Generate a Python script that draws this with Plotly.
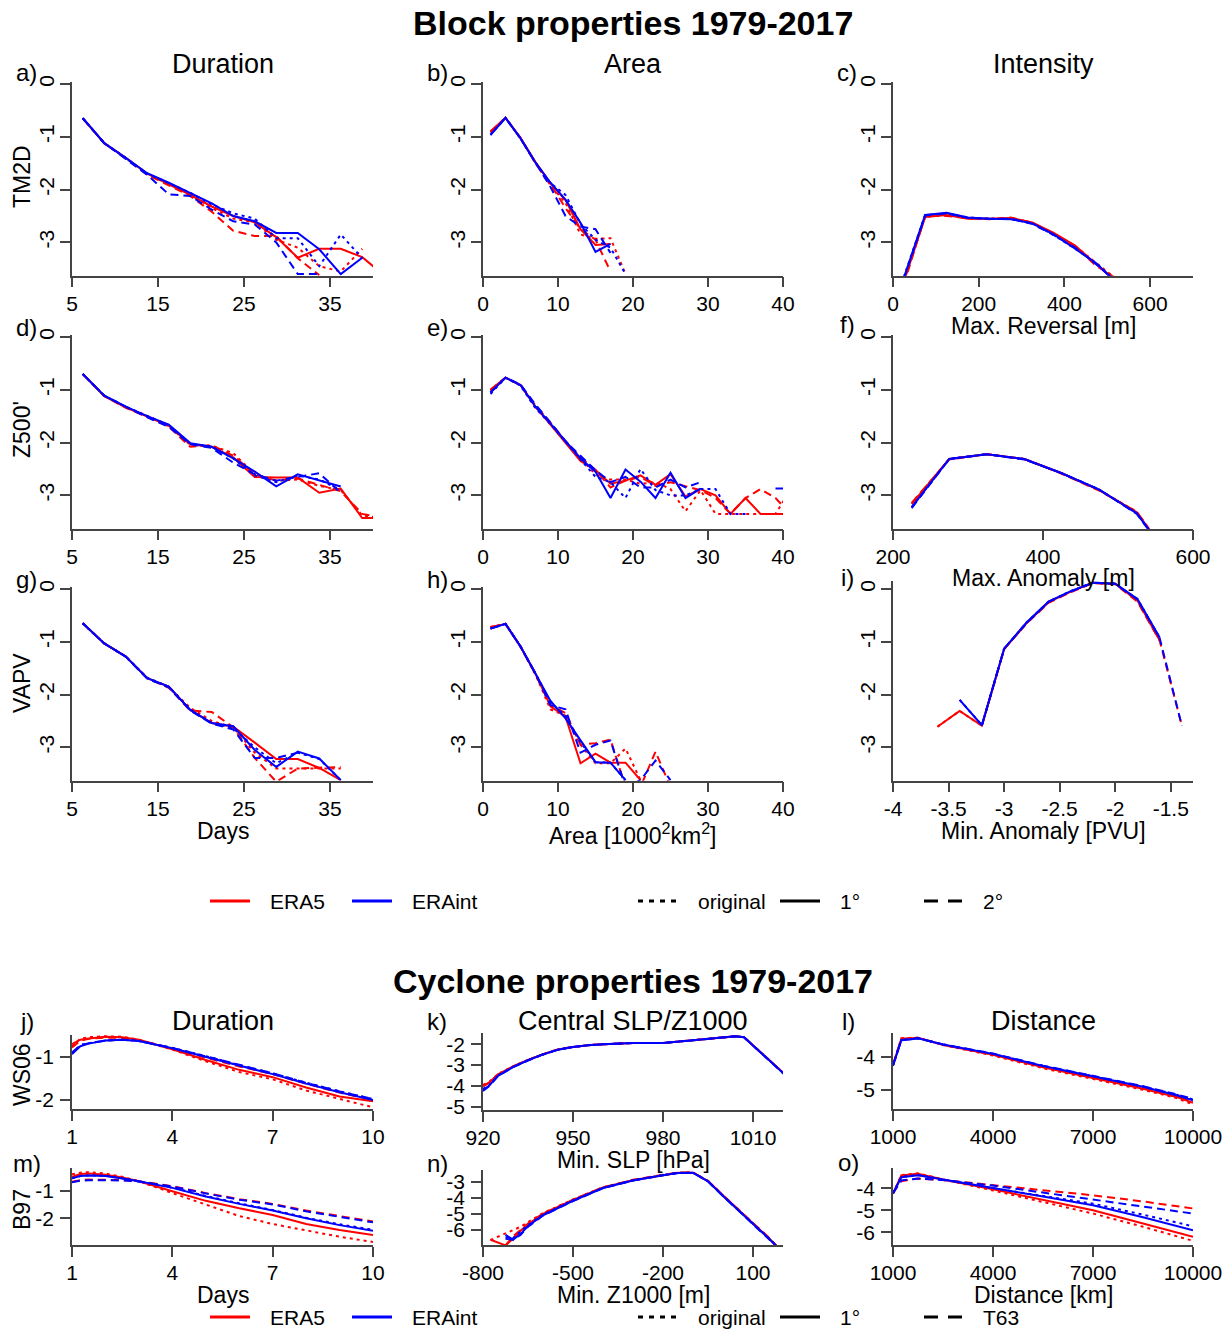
import plotly.graph_objects as go

W, H = 1231, 1331
FONT = "Liberation Sans, Arial, Helvetica, sans-serif"
RED, BLUE = "#FF0000", "#0000FF"

# ------------------------------------------------------------------ data
DUR_X = [6.25, 8.75, 11.25, 13.75, 16.25, 18.75, 21.25, 23.75, 26.25, 28.75, 31.25, 33.75, 36.25, 38.75, 41.25]
AREA_X = [1, 3, 5, 7, 9, 11, 13, 15, 17, 19, 21, 23, 25, 27, 29, 31, 33, 35, 37, 39, 41]
REV_X = [25, 75, 125, 175, 225, 275, 325, 375, 425, 475, 525]
ANOM_X = [225, 275, 325, 375, 425, 475, 525, 575]
PV_X = [-3.6, -3.4, -3.2, -3.0, -2.8, -2.6, -2.4, -2.2, -2.0, -1.8, -1.6, -1.4]
CDUR_X = [1, 1.25, 1.5, 2, 2.5, 3, 4, 5, 6, 7, 8, 9, 10]
SLP_X = [920, 922, 925, 930, 935, 940, 945, 950, 955, 960, 970, 980, 990, 1000, 1004, 1007, 1010, 1015, 1020, 1023]
Z1000_X = [-775, -725, -700, -675, -650, -600, -500, -400, -300, -200, -150, -100, -50, 0, 50, 100, 150, 200]
DIST_L_X = [1000, 1250, 1500, 1750, 2500, 4000, 5500, 7000, 8500, 9500, 10000]
DIST_O_X = [1000, 1250, 1750, 2500, 4000, 5500, 7000, 8500, 10000]

N = None
# a) Duration TM2D
A = {
    "E5_orig": [-0.65, -1.12, -1.40, -1.70, -1.88, -2.08, -2.35, -2.55, -2.62, -2.95, -3.10, -3.45, -3.55, -3.12, N],
    "E5_1":    [-0.65, -1.12, -1.40, -1.70, -1.90, -2.10, -2.32, -2.50, -2.62, -2.90, -3.29, -3.12, -3.12, -3.28, -3.62],
    "E5_2":    [-0.65, -1.12, -1.41, -1.72, -1.92, -2.12, -2.42, -2.78, -2.88, -2.88, -3.30, -3.62, N, N, N],
    "EI_orig": [-0.65, -1.12, -1.40, -1.70, -1.88, -2.06, -2.28, -2.45, -2.55, -2.92, -2.92, -3.45, -2.85, -3.30, N],
    "EI_1":    [-0.64, -1.12, -1.40, -1.69, -1.87, -2.06, -2.26, -2.50, -2.60, -2.82, -2.82, -3.13, -3.60, -3.29, N],
    "EI_2":    [-0.65, -1.12, -1.42, -1.72, -2.09, -2.12, -2.38, -2.60, -2.66, -3.00, -3.60, -3.60, N, N, N],
}
# b) Area TM2D
B = {
    "E5_orig": [-0.92, -0.64, -1.03, -1.50, -1.92, -2.25, -2.85, -2.93, -2.92, -3.60],
    "E5_1":    [-0.90, -0.64, -1.02, -1.48, -1.88, -2.20, -2.75, -3.05, -3.03],
    "E5_2":    [-0.90, -0.64, -1.02, -1.50, -1.90, -2.35, -2.75, -2.95, -3.55],
    "EI_orig": [-0.96, -0.64, -1.03, -1.49, -1.88, -2.10, -2.65, -2.95, -3.10, -3.60],
    "EI_1":    [-0.97, -0.64, -1.03, -1.49, -1.87, -2.19, -2.63, -3.18, -3.03],
    "EI_2":    [-0.96, -0.64, -1.03, -1.50, -1.95, -2.50, -2.70, -2.75, -3.20],
}
# c) Intensity TM2D (max. reversal)
C = {
    "E5_orig": [-3.72, -2.52, -2.47, -2.55, -2.55, -2.55, -2.63, -2.83, -3.07, -3.40, -3.72],
    "E5_1":    [-3.75, -2.52, -2.48, -2.55, -2.55, -2.54, -2.62, -2.82, -3.06, -3.42, -3.75],
    "E5_2":    [-3.80, -2.50, -2.50, -2.54, -2.56, -2.53, -2.63, -2.84, -3.08, -3.45, -3.70],
    "EI_orig": [-3.66, -2.48, -2.45, -2.53, -2.55, -2.56, -2.64, -2.86, -3.12, -3.40, -3.78],
    "EI_1":    [-3.68, -2.48, -2.44, -2.53, -2.55, -2.56, -2.64, -2.85, -3.12, -3.40, -3.80],
    "EI_2":    [-3.70, -2.49, -2.45, -2.54, -2.55, -2.55, -2.65, -2.86, -3.10, -3.42, -3.78],
}
# d) Duration Z500'
D = {
    "E5_orig": [-0.70, -1.11, -1.33, -1.50, -1.69, -2.04, -2.06, -2.20, -2.60, -2.72, -2.70, -2.82, -2.90, -3.38, -3.43],
    "E5_1":    [-0.70, -1.12, -1.33, -1.50, -1.68, -2.03, -2.08, -2.28, -2.65, -2.66, -2.66, -2.95, -2.87, -3.43, -3.43],
    "E5_2":    [-0.70, -1.12, -1.34, -1.51, -1.70, -2.08, -2.05, -2.25, -2.60, -2.72, -2.68, -2.80, -2.92, -3.35, -3.43],
    "EI_orig": [-0.70, -1.11, -1.32, -1.50, -1.67, -2.02, -2.08, -2.30, -2.62, -2.75, -2.62, -2.70, -2.90, N, N],
    "EI_1":    [-0.70, -1.11, -1.32, -1.50, -1.66, -2.01, -2.08, -2.30, -2.55, -2.83, -2.60, -2.72, -2.83, N, N],
    "EI_2":    [-0.70, -1.11, -1.32, -1.52, -1.70, -2.03, -2.10, -2.38, -2.60, -2.72, -2.65, -2.58, -2.95, N, N],
}
# e) Area Z500'
E = {
    "E5_orig": [-1.02, -0.77, -0.91, -1.33, -1.65, -1.99, -2.30, -2.60, -2.70, -2.70, -2.78, -2.75, -2.88, -3.30, -2.90, -3.35, -3.35, -3.35, -3.35, -3.35, -2.90],
    "E5_1":    [-1.00, -0.77, -0.91, -1.32, -1.66, -2.00, -2.35, -2.52, -2.78, -2.72, -2.62, -2.80, -2.60, -3.02, -2.88, -3.00, -3.35, -3.05, -3.35, -3.35, -3.35],
    "E5_2":    [-1.00, -0.77, -0.91, -1.30, -1.62, -1.97, -2.28, -2.52, -2.85, -2.72, -2.65, -2.82, -2.75, -2.82, -2.90, -3.05, -3.35, -3.05, -2.88, -3.05, -3.35],
    "EI_orig": [-1.08, -0.77, -0.92, -1.35, -1.65, -1.98, -2.32, -2.65, -2.75, -3.05, -2.50, -2.90, -3.00, -3.00, -2.88, -2.88, -3.35, -3.35, N, N, N],
    "EI_1":    [-1.05, -0.77, -0.91, -1.32, -1.64, -1.98, -2.30, -2.55, -3.05, -2.51, -2.74, -3.05, -2.57, -3.05, -2.87, N, N, N, N, N, N],
    "EI_2":    [-1.05, -0.77, -0.90, -1.28, -1.62, -1.98, -2.25, -2.52, -2.75, -2.65, -2.85, -2.85, -2.70, -2.85, -2.75, N, N, N, N, -2.87, -2.87],
}
# f) Intensity Z500' (max. anomaly)
F = {
    "E5_orig": [-3.15, -2.31, -2.22, -2.31, -2.58, -2.90, -3.31, -4.30],
    "E5_1":    [-3.16, -2.31, -2.22, -2.31, -2.58, -2.90, -3.32, -4.30],
    "E5_2":    [-3.14, -2.32, -2.22, -2.31, -2.59, -2.91, -3.31, -4.30],
    "EI_orig": [-3.22, -2.31, -2.22, -2.31, -2.58, -2.89, -3.34, -4.30],
    "EI_1":    [-3.22, -2.31, -2.22, -2.31, -2.58, -2.89, -3.34, -4.30],
    "EI_2":    [-3.24, -2.31, -2.22, -2.32, -2.58, -2.89, -3.35, -4.30],
}
# g) Duration VAPV
G = {
    "E5_orig": [-0.65, -1.03, -1.28, -1.69, -1.86, -2.25, -2.50, -2.62, -3.10, -3.40, -3.40, -3.40, -3.40, N, N],
    "E5_1":    [-0.65, -1.03, -1.28, -1.69, -1.85, -2.29, -2.54, -2.61, -2.91, -3.22, -3.22, -3.39, -3.62, N, N],
    "E5_2":    [-0.65, -1.03, -1.28, -1.69, -1.87, -2.30, -2.33, -2.62, -3.20, -3.65, -3.40, -3.38, -3.37, N, N],
    "EI_orig": [-0.65, -1.03, -1.28, -1.68, -1.85, -2.28, -2.54, -2.63, -3.00, -3.30, -3.10, -3.22, -3.62, N, N],
    "EI_1":    [-0.65, -1.03, -1.28, -1.69, -1.85, -2.29, -2.54, -2.60, -3.05, -3.37, -3.08, -3.21, -3.62, N, N],
    "EI_2":    [-0.65, -1.03, -1.28, -1.70, -1.86, -2.30, -2.55, -2.66, -3.20, -3.20, -3.10, N, N, N, N],
}
# h) Area VAPV
Hh = {
    "E5_orig": [-0.72, -0.66, -1.10, -1.62, -2.28, -2.40, -2.95, -3.30, -3.30, -3.02, -3.62],
    "E5_1":    [-0.73, -0.66, -1.09, -1.60, -2.22, -2.42, -3.30, -3.12, -3.29, -3.29, -3.62],
    "E5_2":    [-0.72, -0.66, -1.09, -1.62, -2.20, -2.35, -2.95, -2.92, -2.85, -3.75, -3.75, -3.08, -3.75],
    "EI_orig": [-0.75, -0.66, -1.08, -1.60, -2.15, -2.40, -2.90, -3.28, -3.29, -3.62],
    "EI_1":    [-0.75, -0.66, -1.09, -1.60, -2.12, -2.45, -2.86, -3.28, -3.29, -3.62],
    "EI_2":    [-0.75, -0.66, -1.09, -1.60, -2.20, -2.28, -3.10, -2.95, -2.87, -3.75, -3.62, -3.25, -3.62],
}
# i) Intensity VAPV (min. anomaly)
I = {
    "E5_orig": [-2.61, -2.31, -2.59, -1.14, -0.65, -0.25, -0.05, 0.12, 0.10, -0.22, -0.97, N],
    "E5_1":    [-2.61, -2.31, -2.59, -1.14, -0.65, -0.25, -0.05, 0.12, 0.10, -0.22, -0.97, N],
    "E5_2":    [N, N, -2.59, -1.14, -0.66, -0.26, -0.06, 0.11, 0.09, -0.24, -0.98, -2.59],
    "EI_orig": [N, -2.10, -2.58, -1.13, -0.64, -0.24, -0.04, 0.12, 0.10, -0.19, -0.92, N],
    "EI_1":    [N, -2.10, -2.58, -1.13, -0.64, -0.24, -0.04, 0.12, 0.10, -0.19, -0.92, N],
    "EI_2":    [N, N, -2.58, -1.13, -0.65, -0.24, -0.05, 0.12, 0.10, -0.20, -0.93, -2.59],
}
# j) Cyclone duration WS06
J = {
    "E5_orig": [-0.75, -0.58, -0.54, -0.52, -0.53, -0.60, -0.83, -1.10, -1.35, -1.52, -1.78, -1.98, -2.17],
    "E5_1":    [-0.70, -0.60, -0.57, -0.53, -0.54, -0.60, -0.82, -1.07, -1.30, -1.47, -1.71, -1.92, -2.03],
    "E5_2":    [-0.78, -0.62, -0.58, -0.55, -0.56, -0.61, -0.80, -1.02, -1.22, -1.40, -1.62, -1.83, -2.00],
    "EI_orig": [-0.93, -0.72, -0.68, -0.62, -0.60, -0.63, -0.79, -0.98, -1.19, -1.38, -1.60, -1.80, -1.98],
    "EI_1":    [-0.93, -0.75, -0.69, -0.62, -0.60, -0.63, -0.80, -1.00, -1.20, -1.40, -1.62, -1.82, -2.00],
    "EI_2":    [-0.90, -0.73, -0.68, -0.62, -0.60, -0.63, -0.79, -0.98, -1.18, -1.38, -1.60, -1.80, -1.98],
}
# m) Cyclone duration B97
M = {
    "E5_orig": [-0.41, -0.35, -0.33, -0.38, -0.50, -0.66, -1.09, -1.51, -1.92, -2.21, -2.45, -2.67, -2.86],
    "E5_1":    [-0.50, -0.40, -0.38, -0.42, -0.52, -0.66, -1.02, -1.37, -1.64, -1.88, -2.21, -2.43, -2.61],
    "E5_2":    [-0.68, -0.62, -0.60, -0.60, -0.62, -0.66, -0.84, -1.09, -1.31, -1.48, -1.72, -1.92, -2.12],
    "EI_orig": [-0.55, -0.47, -0.44, -0.46, -0.55, -0.66, -0.89, -1.19, -1.46, -1.70, -1.98, -2.22, -2.42],
    "EI_1":    [-0.55, -0.47, -0.45, -0.47, -0.56, -0.66, -0.90, -1.21, -1.48, -1.72, -2.00, -2.25, -2.45],
    "EI_2":    [-0.70, -0.64, -0.62, -0.62, -0.63, -0.67, -0.85, -1.10, -1.33, -1.50, -1.75, -1.95, -2.15],
}
# k) Central SLP WS06
K = {
    "E5_orig": [-3.95, -3.82, -3.43, -3.06, -2.75, -2.48, -2.25, -2.13, -2.05, -2.00, -1.94, -1.94, -1.81, -1.68, -1.62, -1.66, -2.05, -2.72, -3.36, -3.75],
    "E5_1":    [-4.00, -3.85, -3.45, -3.07, -2.75, -2.48, -2.25, -2.13, -2.05, -2.00, -1.94, -1.94, -1.81, -1.68, -1.62, -1.66, -2.05, -2.72, -3.36, -3.75],
    "E5_2":    [-4.02, -3.86, -3.46, -3.08, -2.76, -2.48, -2.25, -2.13, -2.05, -2.00, -1.94, -1.94, -1.81, -1.68, -1.62, -1.66, -2.06, -2.73, -3.37, -3.76],
    "EI_orig": [-4.15, -3.98, -3.50, -3.09, -2.77, -2.49, -2.26, -2.13, -2.05, -2.00, -1.94, -1.94, -1.81, -1.68, -1.62, -1.66, -2.05, -2.72, -3.38, -3.78],
    "EI_1":    [-4.20, -4.00, -3.52, -3.10, -2.77, -2.49, -2.26, -2.13, -2.05, -2.00, -1.94, -1.94, -1.81, -1.68, -1.62, -1.66, -2.05, -2.72, -3.38, -3.78],
    "EI_2":    [-4.25, -4.02, -3.53, -3.10, -2.78, -2.49, -2.26, -2.13, -2.05, -2.00, -1.94, -1.94, -1.81, -1.68, -1.62, -1.66, -2.06, -2.73, -3.39, -3.79],
}
# n) Central Z1000 B97
Nn = {
    "E5_orig": [-6.62, -6.20, -6.00, -5.80, -5.50, -4.95, -4.10, -3.35, -2.90, -2.58, -2.44, -2.43, -2.95, -3.85, -4.70, -5.55, -6.45, -7.40],
    "E5_1":    [-6.60, -6.95, -6.55, -6.05, -5.65, -5.00, -4.13, -3.36, -2.90, -2.58, -2.44, -2.44, -2.96, -3.86, -4.72, -5.57, -6.45, -7.40],
    "E5_2":    [N, -6.95, -6.40, -6.00, -5.60, -4.98, -4.12, -3.35, -2.88, -2.57, -2.43, -2.43, -2.94, -3.84, -4.70, -5.55, -6.42, -7.40],
    "EI_orig": [N, -6.45, -6.50, -6.10, -5.70, -5.05, -4.16, -3.38, -2.91, -2.59, -2.45, -2.44, -2.97, -3.87, -4.73, -5.58, -6.46, -7.40],
    "EI_1":    [N, -6.30, -6.60, -6.25, -5.75, -5.08, -4.18, -3.39, -2.92, -2.59, -2.45, -2.44, -2.97, -3.88, -4.74, -5.60, -6.48, -7.40],
    "EI_2":    [N, -6.55, -6.60, -6.30, -5.80, -5.10, -4.20, -3.40, -2.92, -2.60, -2.45, -2.45, -2.98, -3.88, -4.75, -5.60, -6.48, -7.40],
}
# l) Distance WS06
L = {
    "E5_orig": [-4.24, -3.42, -3.41, -3.40, -3.63, -3.95, -4.34, -4.67, -5.00, -5.25, -5.45],
    "E5_1":    [-4.24, -3.44, -3.42, -3.41, -3.62, -3.93, -4.31, -4.63, -4.97, -5.22, -5.40],
    "E5_2":    [-4.22, -3.45, -3.43, -3.41, -3.62, -3.92, -4.30, -4.62, -4.95, -5.20, -5.38],
    "EI_orig": [-4.26, -3.48, -3.45, -3.42, -3.61, -3.90, -4.27, -4.58, -4.90, -5.15, -5.30],
    "EI_1":    [-4.26, -3.48, -3.46, -3.42, -3.61, -3.90, -4.27, -4.58, -4.91, -5.17, -5.32],
    "EI_2":    [-4.25, -3.47, -3.45, -3.42, -3.61, -3.89, -4.26, -4.57, -4.89, -5.14, -5.28],
}
# o) Distance B97
O = {
    "E5_orig": [-4.25, -3.40, -3.32, -3.60, -4.10, -4.62, -5.15, -5.75, -6.39],
    "E5_1":    [-4.24, -3.42, -3.34, -3.60, -4.05, -4.52, -5.00, -5.60, -6.21],
    "E5_2":    [-4.20, -3.68, -3.56, -3.63, -3.86, -4.10, -4.32, -4.60, -4.92],
    "EI_orig": [-4.22, -3.48, -3.40, -3.60, -4.00, -4.35, -4.70, -5.20, -5.73],
    "EI_1":    [-4.24, -3.50, -3.41, -3.61, -4.01, -4.38, -4.77, -5.32, -5.91],
    "EI_2":    [-4.22, -3.64, -3.56, -3.63, -3.88, -4.20, -4.50, -4.82, -5.15],
}

SERIES = [("E5_orig", RED, "3px,4px"), ("E5_1", RED, "solid"), ("E5_2", RED, "8px,5px"),
          ("EI_orig", BLUE, "3px,4px"), ("EI_1", BLUE, "solid"), ("EI_2", BLUE, "8px,5px")]

BLOCK_YT = [0, -1, -2, -3]


def px(x):
    return x / W


def py(y):
    return 1 - y / H


def lab(v):
    return ("%g" % v)


COLS = [(72, 373), (483, 783), (893, 1193)]
ROW0 = [84, 337, 589]
U = 52.8


def block_y(row, top=0.04, bot=-3.63):
    y0 = ROW0[row]
    return (y0 - top * U, y0 - bot * U), [bot, top]


panels = []
for (data, xs, col, row, xr, xt, top) in [
    (A, DUR_X, 0, 0, [5, 40], [5, 15, 25, 35], 0.04),
    (B, AREA_X, 1, 0, [0, 40], [0, 10, 20, 30, 40], 0.04),
    (C, REV_X, 2, 0, [0, 700], [0, 200, 400, 600], 0.04),
    (D, DUR_X, 0, 1, [5, 40], [5, 15, 25, 35], 0.04),
    (E, AREA_X, 1, 1, [0, 40], [0, 10, 20, 30, 40], 0.04),
    (F, ANOM_X, 2, 1, [200, 600], [200, 400, 600], 0.04),
    (G, DUR_X, 0, 2, [5, 40], [5, 15, 25, 35], 0.04),
    (Hh, AREA_X, 1, 2, [0, 40], [0, 10, 20, 30, 40], 0.04),
    (I, PV_X, 2, 2, [-4, -1.3], [-4, -3.5, -3, -2.5, -2, -1.5], 0.15),
]:
    ypix, yr = block_y(row, top=top)
    panels.append(dict(data=data, x=xs, xpix=COLS[col], ypix=ypix, xr=xr, yr=yr,
                       xt=xt, yt=BLOCK_YT, yang=-90))

for (data, xs, col, yt_px, yb_px, xr, yr, xt, yt) in [
    (J, CDUR_X, 0, 1035, 1109, [1, 10], [-2.21, -0.49], [1, 4, 7, 10], [-1, -2]),
    (K, SLP_X, 1, 1033, 1110, [920, 1020], [-5.16, -1.46], [920, 950, 980, 1010], [-2, -3, -4, -5]),
    (L, DIST_L_X, 2, 1033, 1109, [1000, 10000], [-5.59, -3.26], [1000, 4000, 7000, 10000], [-4, -5]),
    (M, CDUR_X, 0, 1168, 1245, [1, 10], [-2.97, -0.18], [1, 4, 7, 10], [-1, -2]),
    (Nn, Z1000_X, 1, 1170, 1245, [-800, 200], [-6.93, -2.27], [-800, -500, -200, 100], [-3, -4, -5, -6]),
    (O, DIST_O_X, 2, 1168, 1245, [1000, 10000], [-6.58, -3.08], [1000, 4000, 7000, 10000], [-4, -5, -6]),
]:
    panels.append(dict(data=data, x=xs, xpix=COLS[col], ypix=(yt_px, yb_px), xr=xr, yr=yr,
                       xt=xt, yt=yt, yang=0))

fig = go.Figure()
layout = dict(template="none", width=W, height=H, autosize=False, margin=dict(l=0, r=0, t=0, b=0, pad=0),
              paper_bgcolor="white", plot_bgcolor="white", showlegend=False,
              font=dict(family=FONT, size=21, color="black"))

AX = dict(showline=True, linecolor="#444", linewidth=1.6, ticks="outside", ticklen=10,
          tickwidth=1.6, tickcolor="#444", showgrid=False, zeroline=False, automargin=False,
          tickfont=dict(family=FONT, size=21, color="black"), fixedrange=True)

for n, p in enumerate(panels, 1):
    xa = "x" if n == 1 else f"x{n}"
    ya = "y" if n == 1 else f"y{n}"
    for key, color, dash in SERIES:
        fig.add_trace(go.Scatter(x=p["x"][:len(p["data"][key])], y=p["data"][key], mode="lines",
                                 line=dict(color=color, width=2, dash=dash),
                                 xaxis=xa, yaxis=ya, hoverinfo="skip", connectgaps=False))
    l, r = p["xpix"]
    t, b = p["ypix"]
    layout["xaxis" if n == 1 else f"xaxis{n}"] = dict(
        AX, domain=[px(l), px(r)], range=p["xr"], anchor=ya,
        tickvals=p["xt"], ticktext=[lab(v) for v in p["xt"]], ticklabelstandoff=-2)
    layout["yaxis" if n == 1 else f"yaxis{n}"] = dict(
        AX, domain=[py(b), py(t)], range=p["yr"], anchor=xa,
        tickvals=p["yt"], ticktext=[lab(v) for v in p["yt"]], tickangle=p["yang"],
        ticklabelstandoff=2 if p["yang"] == 0 else -2)

ann = []


def text(x, y, s, size=21, angle=0, xanchor="center", bold=False):
    ann.append(dict(x=px(x), y=py(y), xref="paper", yref="paper", text=("<b>%s</b>" % s) if bold else s,
                    showarrow=False, textangle=angle, xanchor=xanchor, yanchor="middle",
                    font=dict(family=FONT, size=size, color="black")))


text(633, 23, "Block properties 1979-2017", size=34, bold=True)
text(633, 981, "Cyclone properties 1979-2017", size=34, bold=True)
for x, s in [(223, "Duration"), (633, "Area"), (1043, "Intensity")]:
    text(x, 64, s, size=27)
for x, s in [(223, "Duration"), (633, "Central SLP/Z1000"), (1043, "Distance")]:
    text(x, 1021, s, size=27)

for s, x, y in [("a)", 27, 73), ("b)", 437, 73), ("c)", 847, 73),
                ("d)", 27, 327), ("e)", 437, 327), ("f)", 847, 325),
                ("g)", 27, 579), ("h)", 437, 579), ("i)", 847, 577),
                ("j)", 27, 1022), ("k)", 437, 1021), ("l)", 848, 1022),
                ("m)", 27, 1163), ("n)", 437, 1163), ("o)", 848, 1162)]:
    text(x, y, s, size=24)

for s, y in [("TM2D", 177), ("Z500'", 430), ("VAPV", 683), ("WS06", 1075), ("B97", 1210)]:
    text(22, y, s, size=23, angle=-90)

AT = 23
text(1043, 326, "Max. Reversal [m]", size=AT)
text(1043, 578, "Max. Anomaly [m]", size=AT)
text(223, 831, "Days", size=AT)
text(633, 834, "Area [1000<sup>2</sup>km<sup>2</sup>]", size=AT)
text(1043, 831, "Min. Anomaly [PVU]", size=AT)
text(633, 1160, "Min. SLP [hPa]", size=AT)
text(223, 1295, "Days", size=AT)
text(633, 1295, "Min. Z1000 [m]", size=AT)
text(1043, 1295, "Distance [km]", size=AT)

shapes = []
for ly, last in [(901, "2°"), (1317, "T63")]:
    for (x0, x1, color, dash, label, tx) in [
        (210, 250, RED, "solid", "ERA5", 268),
        (352, 392, BLUE, "solid", "ERAint", 410),
        (638, 678, "black", "5px,6px", "original", 696),
        (780, 820, "black", "solid", "1°", 838),
        (924, 964, "black", "14px,10px", last, 981),
    ]:
        shapes.append(dict(type="line", xref="paper", yref="paper", x0=px(x0), x1=px(x1),
                           y0=py(ly), y1=py(ly), line=dict(color=color, width=3, dash=dash)))
        text(tx, ly, label, xanchor="left")

layout["annotations"] = ann
layout["shapes"] = shapes
fig.update_layout(**layout)
fig.write_html("out.html", config={"displayModeBar": False},
               post_script="document.body.style.margin='0';")
